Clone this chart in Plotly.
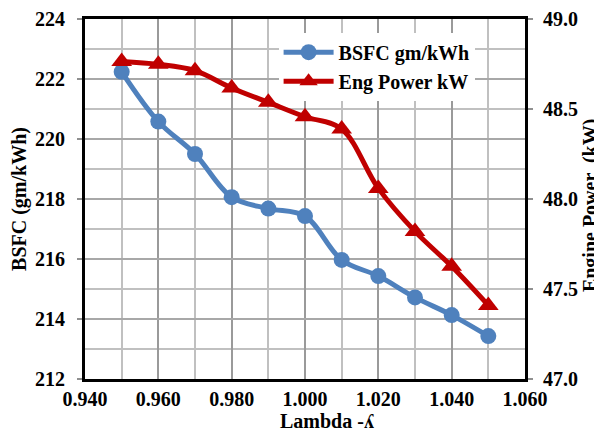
import plotly.graph_objects as go

lam = [0.95, 0.96, 0.97, 0.98, 0.99, 1.00, 1.01, 1.02, 1.03, 1.04, 1.05]
bsfc = [222.24, 220.58, 219.5, 218.06, 217.68, 217.43, 215.97, 215.43, 214.72, 214.13, 213.43]
power = [48.764, 48.748, 48.713, 48.617, 48.537, 48.457, 48.389, 48.059, 47.82, 47.626, 47.409]

x_ticks = [0.94, 0.96, 0.98, 1.00, 1.02, 1.04, 1.06]
y_ticks = [212, 214, 216, 218, 220, 222, 224]
y2_ticks = [47.0, 47.5, 48.0, 48.5, 49.0]

FONT = "Liberation Serif, Times New Roman, serif"
tf = dict(family=FONT, size=20, color="black", weight="bold")
titlefont = dict(family=FONT, size=20, color="black", weight="bold")

def bold(vals, fmt):
    return ["<b>" + format(v, fmt) + "</b>" for v in vals]

fig = go.Figure()
fig.add_trace(go.Scatter(
    x=lam, y=bsfc, name="BSFC gm/kWh", mode="lines+markers",
    line=dict(color="#4F81BD", width=5, shape="spline"),
    marker=dict(symbol="circle", size=16, color="#4F81BD"),
))
fig.add_trace(go.Scatter(
    x=lam, y=power, name="Eng Power kW", mode="lines+markers", yaxis="y2",
    line=dict(color="#C00000", width=5, shape="spline"),
    marker=dict(symbol="triangle-up", size=18, color="#C00000"),
))

# page body has an 8px margin, so the figure is sized to fit the 602x437 window
fig.update_layout(
    width=594, height=429,
    margin=dict(l=77, r=77, t=11, b=58, autoexpand=False),
    paper_bgcolor="white", plot_bgcolor="white",
    font=dict(family=FONT, color="black", weight="bold", size=20),
    showlegend=True,
    legend=dict(x=0.44, y=0.962, xanchor="left", yanchor="top",
                bgcolor="white", borderwidth=0,
                font=dict(family=FONT, size=20, color="black", weight="bold"),
                itemwidth=50, tracegroupgap=0),
    xaxis=dict(
        range=[0.94, 1.06], tickmode="array", tickvals=x_ticks, ticktext=bold(x_ticks, ".3f"),
        showgrid=True, gridcolor="#9a9a9a", gridwidth=1.8,
        minor=dict(dtick=0.01, tick0=0.94, showgrid=True, gridcolor="#c0c0c0", gridwidth=1.8),
        showline=True, linecolor="black", linewidth=3, mirror=True,
        ticks="", tickfont=tf, zeroline=False, automargin=False,
    ),
    yaxis=dict(
        range=[212, 224], tickmode="array", tickvals=y_ticks, ticktext=bold(y_ticks, "d"),
        showgrid=True, gridcolor="#a8a8a8", gridwidth=1.8,
        minor=dict(dtick=1, tick0=212, showgrid=True, gridcolor="#c0c0c0", gridwidth=1.8),
        showline=True, linecolor="black", linewidth=3, mirror=True,
        ticks="outside", ticklen=5, tickcolor="#909090", tickwidth=1.5,
        tickfont=tf, zeroline=False, ticklabelstandoff=8, automargin=False,
        title=dict(text="BSFC (gm/kWh)", font=titlefont, standoff=8),
    ),
    yaxis2=dict(
        range=[47, 49], tickmode="array", tickvals=y2_ticks, ticktext=bold(y2_ticks, ".1f"),
        overlaying="y", side="right", showgrid=False,
        showline=True, linecolor="black", linewidth=3,
        ticks="outside", ticklen=5, tickcolor="#909090", tickwidth=1.5,
        tickfont=tf, zeroline=False, ticklabelstandoff=6, automargin=False,
    ),
    annotations=[
        dict(text="<b>Lambda -ʎ</b>", xref="paper", yref="paper", x=0.55, y=0,
             xanchor="center", yanchor="middle", yshift=-42, showarrow=False, font=titlefont),
        dict(text="<b>Engine Power  (kW)</b>", xref="paper", yref="paper", x=1, y=0.483,
             xanchor="center", yanchor="middle", xshift=65, textangle=-90,
             showarrow=False, font=titlefont),
    ],
)

fig.write_html("out.html")
